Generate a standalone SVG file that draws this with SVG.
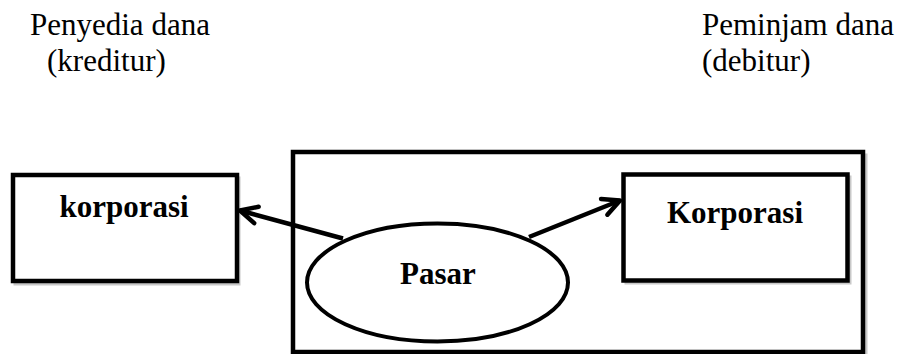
<svg xmlns="http://www.w3.org/2000/svg" width="904" height="354" viewBox="0 0 904 354">
<style>
.box{fill:#fff;stroke:#000;stroke-width:4.5}
.sh{fill:none;stroke:#c8c8c8;stroke-width:3}
.con{stroke:#000;stroke-width:4.5;fill:none}
</style>
<defs>
<marker id="arr" viewBox="-22 -12 26 24" refX="0" refY="0" markerWidth="26" markerHeight="24" markerUnits="userSpaceOnUse" orient="auto">
<path d="M-17,-8.5 L0,0 L-17,8.5" fill="none" stroke="#000" stroke-width="4.5" stroke-linecap="round" stroke-linejoin="round"/>
</marker>
</defs>
<rect width="904" height="354" fill="#fff"/>
<g id="header-left" font-family="Liberation Serif, serif" font-size="31">
<text x="30" y="35">Penyedia dana</text>
<text x="47" y="71">(kreditur)</text>
</g>
<g id="header-right" font-family="Liberation Serif, serif" font-size="31">
<text x="702" y="35">Peminjam dana</text>
<text x="702" y="71">(debitur)</text>
</g>
<g id="market-frame">
<rect class="sh" x="296" y="155" width="570" height="200"/>
<rect class="box" x="293" y="152" width="570" height="200"/>
</g>
<g id="korporasi-left">
<rect class="sh" x="15" y="178" width="224" height="106"/>
<rect class="box" x="13" y="175" width="224" height="106"/>
<text x="124" y="217" font-family="Liberation Serif, serif" font-size="31" font-weight="bold" text-anchor="middle">korporasi</text>
</g>
<g id="korporasi-right">
<rect class="sh" x="626" y="177" width="224" height="106"/>
<rect class="box" x="623.5" y="174.5" width="224" height="106"/>
<text x="735" y="223" font-family="Liberation Serif, serif" font-size="31" font-weight="bold" text-anchor="middle">Korporasi</text>
</g>
<g id="pasar">
<ellipse cx="437.5" cy="282.5" rx="130.5" ry="59" fill="#fff" stroke="#000" stroke-width="4"/>
<text x="438" y="284" font-family="Liberation Serif, serif" font-size="31" font-weight="bold" text-anchor="middle">Pasar</text>
</g>
<g id="connectors">
<line class="con" x1="343" y1="238.5" x2="240" y2="210.5" marker-end="url(#arr)"/>
<line class="con" x1="529" y1="237" x2="620" y2="200.5" marker-end="url(#arr)"/>
</g>
</svg>
